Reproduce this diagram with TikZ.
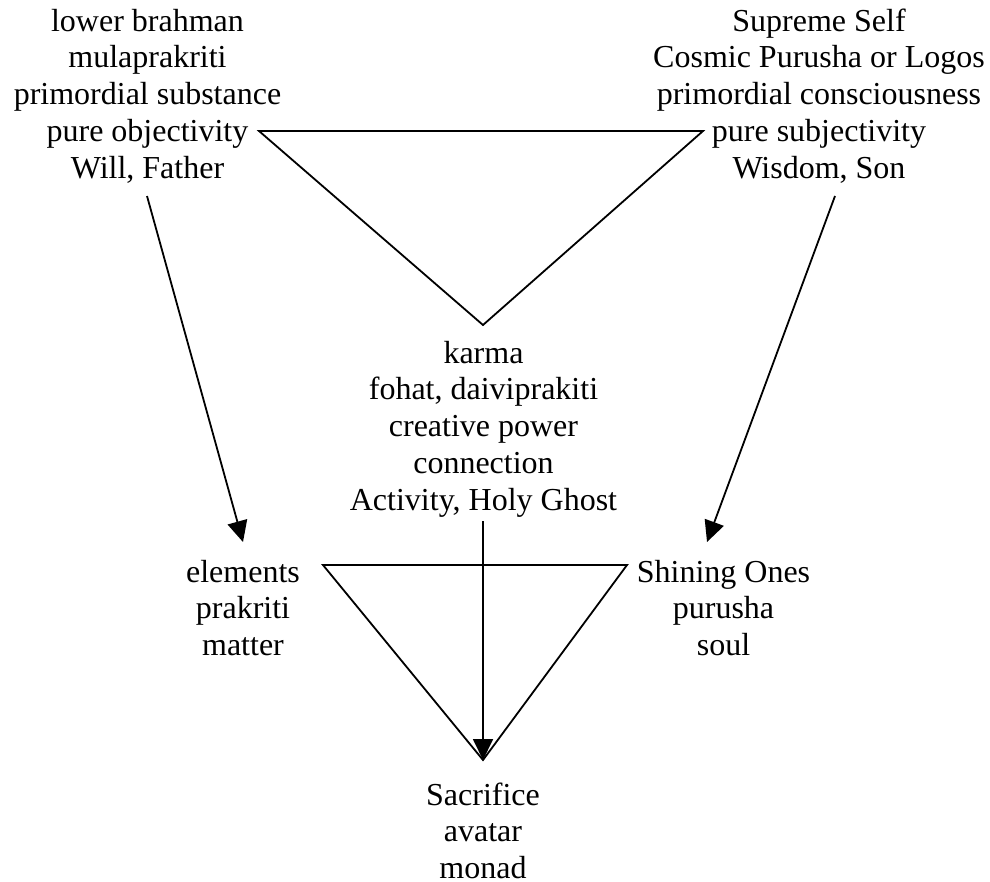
\documentclass[tikz,border=0pt]{standalone}
\usepackage{fontspec}
\setmainfont{Liberation Serif}
\usetikzlibrary{arrows.meta}
\begin{document}
\begin{tikzpicture}[x=1pt,y=-1pt,
  lbl/.style={align=center,anchor=north,inner sep=0pt,font=\fontsize{32}{36.75}\selectfont},
  ln/.style={line width=1.8pt,line join=miter},
  arr/.style={line width=1.8pt,-{Triangle[length=21pt,width=20pt]}}]
\useasboundingbox (0,0) rectangle (990,881);
% labels
\node[lbl] (tl) at (147.5,5.3) {\strut lower brahman\\mulaprakriti\\primordial substance\\pure objectivity\\Will, Father};
\node[lbl] (tr) at (819,5.3) {\strut Supreme Self\\Cosmic Purusha or Logos\\primordial consciousness\\pure subjectivity\\Wisdom, Son};
\node[lbl] (mid) at (483.5,337.3) {\strut karma\\fohat, daiviprakiti\\creative power\\connection\\Activity, Holy Ghost};
\node[lbl] (bl) at (243,556.3) {\strut elements\\prakriti\\matter};
\node[lbl] (br) at (723.5,556.3) {\strut Shining Ones\\purusha\\soul};
\node[lbl] (bot) at (483,779.3) {\strut Sacrifice\\avatar\\monad};
% triangle vertices
\coordinate (t1) at (259,131);
\coordinate (t2) at (703,131);
\coordinate (t3) at (483,325);
\coordinate (b1) at (323,565);
\coordinate (b2) at (627,565);
\coordinate (b3) at (483,760);
% arrow ends
\coordinate (a1s) at (147,196);
\coordinate (a1e) at (243,542);
\coordinate (a2s) at (835,196);
\coordinate (a2e) at (707,542);
\coordinate (a3s) at (483,521);
% triangles
\draw[ln] (t1) -- (t2) -- (t3) -- cycle;
\draw[ln] (b1) -- (b2) -- (b3) -- cycle;
% arrows
\draw[arr] (a1s) -- (a1e);
\draw[arr] (a2s) -- (a2e);
\draw[arr] (a3s) -- (b3);
\end{tikzpicture}
\end{document}
